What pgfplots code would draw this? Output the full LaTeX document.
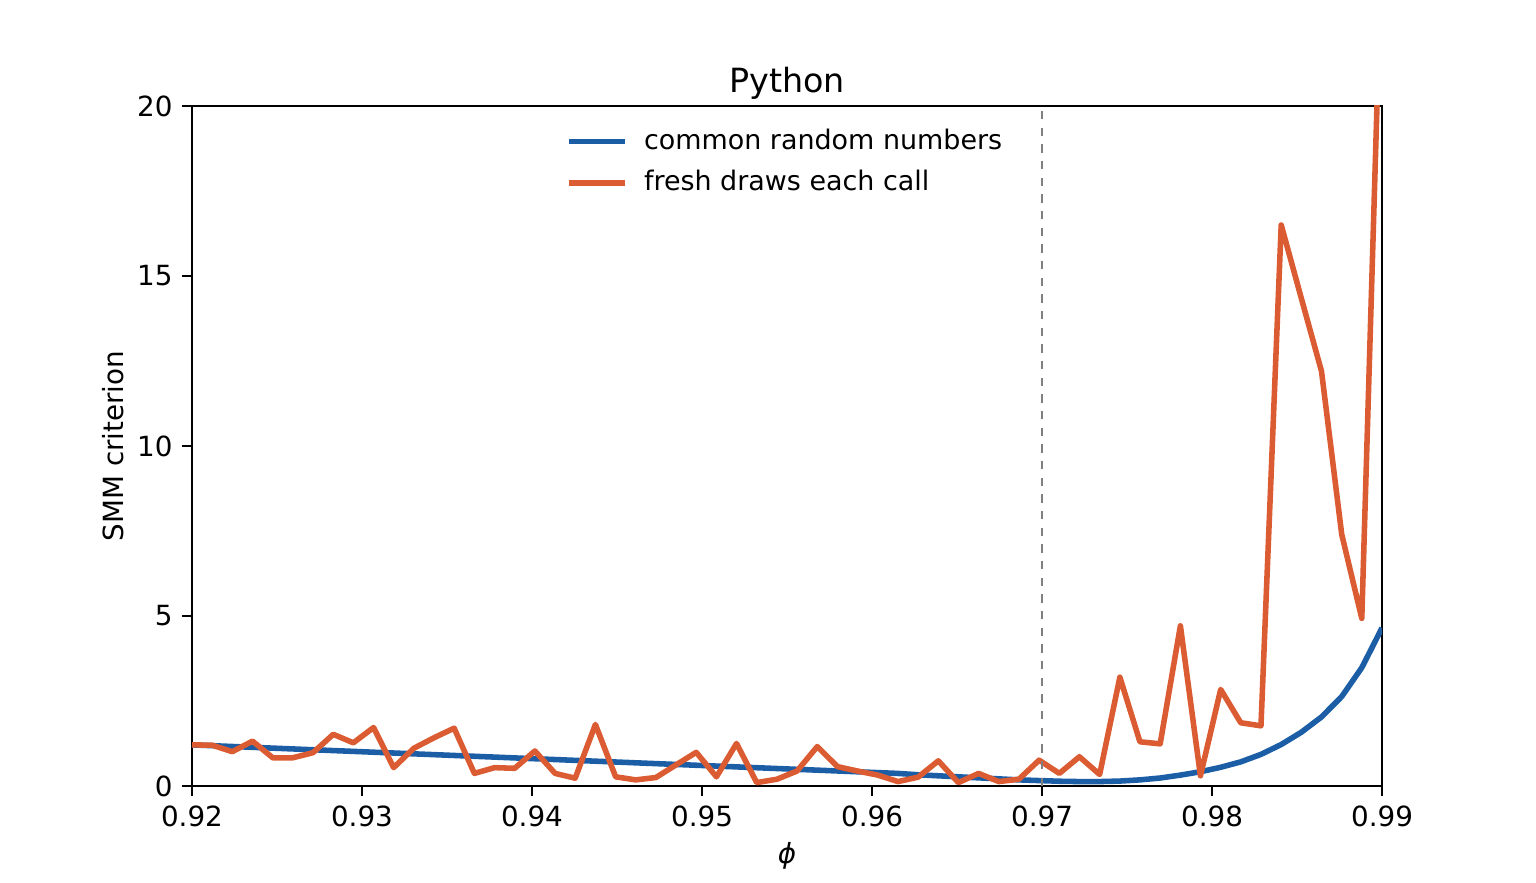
\documentclass[border=0pt]{standalone}
\usepackage{fontspec}
\setmainfont{DejaVu Sans}
\usepackage{pgfplots}
\pgfplotsset{compat=1.18}
\definecolor{cblue}{RGB}{27,94,166}
\definecolor{corange}{RGB}{219,92,51}
\begin{document}
\begin{tikzpicture}
\path[use as bounding box] (-69.12pt,-34.92pt) rectangle (483.84pt,282.96pt);
\begin{axis}[
  at={(0pt,0pt)}, anchor=south west,
  scale only axis,
  width=428.4pt, height=244.8pt,
  xmin=0.92, xmax=0.99, ymin=0, ymax=20,
  xtick={0.92,0.93,0.94,0.95,0.96,0.97,0.98,0.99},
  ytick={0,5,10,15,20},
  xticklabel style={/pgf/number format/.cd,fixed,fixed zerofill,precision=2},
  /pgf/number format/assume math mode=true,
  tick label style={font=\fontsize{10}{12}\selectfont},
  tick align=outside, tick pos=left,
  major tick length=3.5pt,
  axis line style={line width=0.8pt},
  every tick/.style={black, line width=0.8pt},
  xlabel={\textit{ϕ}}, ylabel={SMM criterion},
  label style={font=\fontsize{10}{12}\selectfont},
  xlabel style={yshift=1pt},
  ylabel style={yshift=-2pt},
  title={Python},
  title style={font=\fontsize{12}{14}\selectfont, yshift=-7pt},
  clip=true,
  legend style={draw=none, fill=none, at={(0.5,0.983)}, anchor=north,
    font=\fontsize{9.7}{11.6}\selectfont, row sep=2pt,
    legend cell align=left},
  legend image code/.code={\draw[#1, line width=2pt, line cap=butt] (0pt,0pt) -- (20pt,0pt); \path (24pt,0pt);},
]
\addplot[cblue, line width=2pt, line join=round] coordinates {
(0.92000,1.210)(0.92119,1.186)(0.92237,1.162)(0.92356,1.138)(0.92475,1.114)
(0.92593,1.090)(0.92712,1.066)(0.92831,1.042)(0.92949,1.018)(0.93068,0.994)
(0.93186,0.970)(0.93305,0.946)(0.93424,0.922)(0.93542,0.898)(0.93661,0.874)
(0.93780,0.850)(0.93898,0.826)(0.94017,0.802)(0.94136,0.778)(0.94254,0.754)
(0.94373,0.730)(0.94492,0.706)(0.94610,0.682)(0.94729,0.658)(0.94847,0.634)
(0.94966,0.610)(0.95085,0.586)(0.95203,0.562)(0.95322,0.538)(0.95441,0.514)
(0.95559,0.490)(0.95678,0.466)(0.95797,0.442)(0.95915,0.418)(0.96034,0.394)
(0.96153,0.370)(0.96271,0.330)(0.96390,0.300)(0.96508,0.270)(0.96627,0.240)
(0.96746,0.210)(0.96864,0.180)(0.96983,0.160)(0.97102,0.140)(0.97220,0.130)
(0.97339,0.130)(0.97458,0.145)(0.97576,0.180)(0.97695,0.235)(0.97814,0.320)
(0.97932,0.420)(0.98051,0.550)(0.98169,0.710)(0.98288,0.930)(0.98407,1.220)
(0.98525,1.580)(0.98644,2.030)(0.98763,2.630)(0.98881,3.480)(0.99000,4.650)
};
\addlegendentry{common random numbers}
\addplot[corange, line width=2pt, line join=round] coordinates {
(0.92000,1.21)(0.92119,1.20)(0.92237,1.01)(0.92356,1.32)(0.92475,0.83)
(0.92593,0.83)(0.92712,0.98)(0.92831,1.52)(0.92949,1.27)(0.93068,1.72)
(0.93186,0.54)(0.93305,1.11)(0.93424,1.42)(0.93542,1.70)(0.93661,0.37)
(0.93780,0.54)(0.93898,0.52)(0.94017,1.03)(0.94136,0.37)(0.94254,0.23)
(0.94373,1.81)(0.94492,0.27)(0.94610,0.18)(0.94729,0.25)(0.94847,0.62)
(0.94966,0.99)(0.95085,0.27)(0.95203,1.25)(0.95322,0.10)(0.95441,0.20)
(0.95559,0.44)(0.95678,1.16)(0.95797,0.57)(0.95915,0.44)(0.96034,0.32)
(0.96153,0.13)(0.96271,0.26)(0.96390,0.74)(0.96508,0.10)(0.96627,0.37)
(0.96746,0.13)(0.96864,0.20)(0.96983,0.76)(0.97102,0.37)(0.97220,0.86)
(0.97339,0.34)(0.97458,3.20)(0.97576,1.30)(0.97695,1.24)(0.97814,4.71)
(0.97932,0.30)(0.98051,2.84)(0.98169,1.86)(0.98288,1.77)(0.98407,16.50)
(0.98525,14.35)(0.98644,12.20)(0.98763,7.40)(0.98881,4.93)(0.99000,25.00)
};
\addlegendentry{fresh draws each call}
\addplot[gray, dashed, line width=0.9pt, forget plot] coordinates {(0.97,0)(0.97,20)};
\end{axis}
\end{tikzpicture}
\end{document}
